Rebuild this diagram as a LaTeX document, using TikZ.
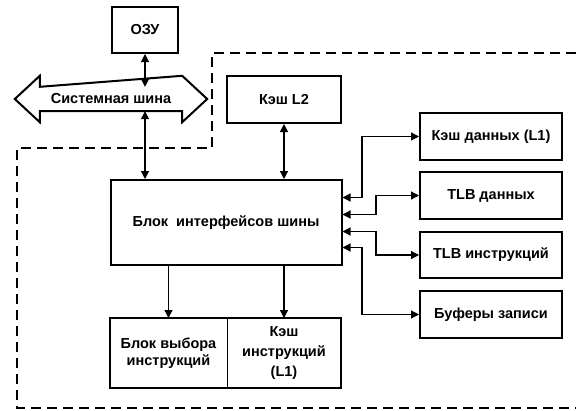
\documentclass[tikz,border=0pt]{standalone}
\usepackage{fontspec}
\setmainfont{Liberation Sans}
\usetikzlibrary{arrows.meta, positioning}

\begin{document}
\begin{tikzpicture}[x=1pt, y=-1pt,
    block/.style={rectangle, draw, line width=2pt, inner sep=0pt,
                  align=center, font=\bfseries\fontsize{14.5}{17}\selectfont},
    part/.style={rectangle, draw, line width=0.8pt, inner sep=0pt, outer sep=0pt,
                 align=center, minimum height=70pt, font=\bfseries\fontsize{14.5}{17}\selectfont},
    link/.style={{Triangle[length=8pt,width=8pt]}-{Triangle[length=8pt,width=8pt]}, line width=1.2pt},
    feed/.style={-{Triangle[length=8pt,width=8pt]}, line width=1.2pt},
    border/.style={line width=2pt, dash pattern=on 10pt off 6pt}
]
    \useasboundingbox (0,0) rectangle (576,410);

    % memory and system bus
    \node[block, minimum width=66pt, minimum height=46pt] (ozu) at (145,30) {ОЗУ};
    \node[inner sep=0pt, minimum width=142pt, minimum height=24pt,
          font=\bfseries\fontsize{14.5}{17}\selectfont] (bus) at (111,99) {Системная шина};
    \draw[line width=2pt] (bus.north west) -- ++(0,-11) -- ([xshift=-25pt]bus.west)
        -- ([yshift=-11pt]bus.south west) -- (bus.south west) -- (bus.south east)
        -- ++(0,11) -- ([xshift=25pt]bus.east) -- ([yshift=11pt]bus.north east)
        -- cycle;

    % processor
    \node[block, minimum width=114pt, minimum height=47pt] (l2) at (284,99.5) {Кэш L2};
    \node[block, minimum width=231pt, minimum height=85pt] (biu) at (226,222.5)
        {Блок\ \ интерфейсов шины};
    \node[part, minimum width=117pt] (fetch) at (168.5,353) {Блок выбора\\инструкций};
    \node[part, minimum width=114pt, right=0pt of fetch,
          font=\bfseries\fontsize{14.5}{20}\selectfont] (icache) {Кэш\\инструкций\\(L1)};
    \draw[line width=2pt] (fetch.north west) rectangle (icache.south east);

    \node[block, minimum width=142pt, minimum height=47pt] (dcache) at (491,136.5) {Кэш данных (L1)};
    \node[block, minimum width=142pt, minimum height=47pt, below=10pt of dcache] (dtlb) {TLB данных};
    \node[block, minimum width=142pt, minimum height=46pt, below=11pt of dtlb] (itlb) {TLB инструкций};
    \node[block, minimum width=142pt, minimum height=47pt, below=11pt of itlb] (wbuf) {Буферы записи};

    \draw[link] (ozu.south) -- (ozu.south |- bus.north);
    \draw[link] (ozu.south |- bus.south) -- (ozu.south |- biu.north);
    \draw[link] (l2.south) -- (l2.south |- biu.north);
    \draw[feed] (fetch.north |- biu.south) -- (fetch.north);
    \draw[feed] (icache.north |- biu.south) -- (icache.north);

    \draw[link] (dcache.west) -- ++(-57,0) |- ([yshift=25pt]biu.east);
    \draw[link] (dtlb.west) -- ++(-43,0) |- ([yshift=8pt]biu.east);
    \draw[link] (itlb.west) -- ++(-43,0) |- ([yshift=-9pt]biu.east);
    \draw[link] (wbuf.west) -- ++(-57,0) |- ([yshift=-25pt]biu.east);

    % processor boundary
    \draw[border] (576,53) -- (212,53) -- (212,148) -- (17,148) -- (17,408) -- (576,408);
\end{tikzpicture}
\end{document}
